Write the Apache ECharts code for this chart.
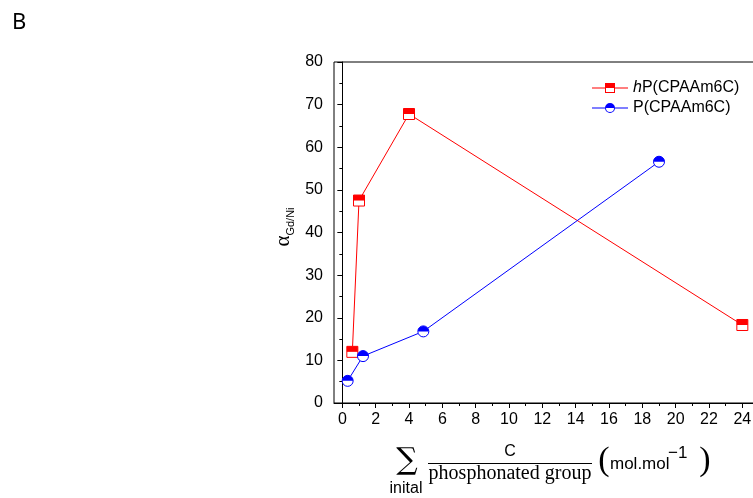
<!DOCTYPE html>
<html>
<head>
<meta charset="utf-8">
<script src="https://cdn.jsdelivr.net/npm/echarts@6/dist/echarts.min.js"></script>
<style>
html,body{margin:0;padding:0;background:#fff;}
#chart{width:753px;height:498px;}
</style>
</head>
<body>
<div id="chart"></div>
<script>
// ---- data ----
const hpName = 'hP(CPAAm6C)';
const pName = 'P(CPAAm6C)';
const hpX = [0.6, 1.0, 4.0, 24.0];
const hpY = [12.0, 47.5, 67.8, 18.3];
const pX = [0.32, 1.24, 4.86, 19.0];
const pY = [5.2, 11.0, 16.8, 56.6];
const xTicks = [0, 2, 4, 6, 8, 10, 12, 14, 16, 18, 20, 22, 24];
const xMinorTicks = [1, 3, 5, 7, 9, 11, 13, 15, 17, 19, 21, 23];
const yTicks = [0, 10, 20, 30, 40, 50, 60, 70, 80];

const zip = (xs, ys) => xs.map((x, i) => [x, ys[i]]);
const hpData = zip(hpX, hpY);
const pData = zip(pX, pY);

const RED = '#ff0000';
const BLUE = '#0000ff';
const FONT = 'Liberation Sans, Arial, sans-serif';

const redIcon = 'path://M0 4.5H13V5.5H0Z M13 0H23V10H13Z M14 5V9H22V5Z M23 4.5H36V5.5H23Z';
const blueIcon = 'path://M0 4.5H13V5.5H0Z M13 5A5 5 0 0 1 23 5Z M13 5A5 5 0 0 0 23 5L22 5A4 4 0 0 1 14 5Z M23 4.5H36V5.5H23Z';
const halfCircle = 'path://M0 5A5 5 0 0 1 10 5Z';

const chart = echarts.init(document.getElementById('chart'), null, {renderer: 'canvas'});

const option = {
  backgroundColor: '#fff',
  animation: false,
  grid: {
    left: 334, top: 62, width: 425, height: 341,
    outerBoundsMode: 'none', containLabel: false,
    show: true, borderColor: '#000', borderWidth: 1, backgroundColor: 'transparent'
  },
  xAxis: [{
    type: 'value', min: -0.5, max: 25,
    axisLine: {show: true, lineStyle: {color: '#000', width: 1}},
    axisTick: {show: true, customValues: xTicks, length: 5, lineStyle: {color: '#000', width: 1}},
    axisLabel: {customValues: xTicks, fontSize: 16, color: '#000', fontFamily: FONT, margin: 9},
    splitLine: {show: false}
  }, {
    type: 'value', min: -0.5, max: 25, position: 'top', offset: -341,
    axisLine: {show: false},
    axisTick: {show: true, inside: true, customValues: xMinorTicks, length: 3, lineStyle: {color: '#000', width: 1}},
    axisLabel: {show: false},
    splitLine: {show: false}
  }],
  yAxis: {
    type: 'value', min: 0, max: 80, interval: 10,
    axisLine: {show: true, lineStyle: {color: '#000', width: 1}},
    axisTick: {show: true, length: 5, lineStyle: {color: '#000', width: 1}},
    minorTick: {show: true, splitNumber: 2, length: 3, lineStyle: {color: '#000', width: 1}},
    axisLabel: {fontSize: 16, color: '#000', fontFamily: FONT, margin: 11,
      formatter: v => (yTicks.indexOf(v) >= 0 ? String(v) : '')},
    splitLine: {show: false}
  },
  legend: {
    orient: 'vertical', left: 592, top: 80, itemWidth: 36, itemHeight: 10, itemGap: 4,
    padding: 0,
    textStyle: {fontSize: 16, color: '#000', fontFamily: FONT,
      rich: {i: {fontStyle: 'italic', fontSize: 16, fontFamily: FONT, color: '#000'},
             n: {fontSize: 16, fontFamily: FONT, color: '#000'}}},
    formatter: name => name === hpName ? '{i|h}{n|P(CPAAm6C)}' : name,
    data: [
      {name: hpName, icon: redIcon, itemStyle: {color: RED, borderWidth: 0}},
      {name: pName, icon: blueIcon, itemStyle: {color: BLUE, borderWidth: 0}}
    ]
  },
  series: [
    {name: hpName, type: 'line', data: hpData, symbol: 'none', z: 2,
     lineStyle: {color: RED, width: 1}, itemStyle: {color: RED}},
    {name: pName, type: 'line', data: pData, symbol: 'none', z: 2,
     lineStyle: {color: BLUE, width: 1}, itemStyle: {color: BLUE}},
    {name: 'hpFill', type: 'scatter', data: hpData, symbol: 'rect', symbolSize: 11, z: 3,
     itemStyle: {color: '#fff', borderColor: RED, borderWidth: 1, opacity: 1}},
    {name: 'hpHalf', type: 'scatter', data: hpData, symbol: 'rect', symbolSize: [11, 5.5], symbolOffset: [0, -2.75], z: 4,
     itemStyle: {color: RED, opacity: 1}},
    {name: 'pFill', type: 'scatter', data: pData, symbol: 'circle', symbolSize: 11, z: 5,
     itemStyle: {color: '#fff', borderColor: BLUE, borderWidth: 1, opacity: 1}},
    {name: 'pHalf', type: 'scatter', data: pData, symbol: halfCircle, symbolSize: [11, 5.5], symbolOffset: [0, -2.75], z: 6,
     itemStyle: {color: BLUE, opacity: 1}}
  ],
  graphic: [
    {type: 'text', left: 12, top: 12, style: {text: 'B', fontSize: 22, fontFamily: 'Noto Sans, sans-serif', fill: '#000'}},
    // y axis title
    {type: 'text', x: 283, y: 227, rotation: Math.PI / 2,
     style: {text: '{a|α}{s|Gd/Ni}', align: 'center', verticalAlign: 'middle',
       rich: {a: {fontSize: 21, fontFamily: 'Liberation Serif, serif', fill: '#000', verticalAlign: 'bottom'},
              s: {fontSize: 11, fontFamily: FONT, fill: '#000', verticalAlign: 'bottom', padding: [0, 0, -3, 0]}}}},
    // x axis title
    {type: 'text', x: 407, y: 461, style: {text: '∑', fontSize: 30, fontFamily: 'DejaVu Serif, serif', fill: '#000', align: 'center', verticalAlign: 'middle'}},
    {type: 'text', x: 406, y: 489, style: {text: 'inital', fontSize: 16, fontFamily: FONT, fill: '#000', align: 'center', verticalAlign: 'middle'}},
    {type: 'text', x: 510, y: 452, style: {text: 'C', fontSize: 16, fontFamily: FONT, fill: '#000', align: 'center', verticalAlign: 'middle'}},
    {type: 'line', shape: {x1: 428, y1: 463.5, x2: 592, y2: 463.5}, style: {stroke: '#000', lineWidth: 1}},
    {type: 'text', x: 510, y: 474, style: {text: 'phosphonated group', fontSize: 20, fontFamily: 'Liberation Serif, serif', fill: '#000', align: 'center', verticalAlign: 'middle'}},
    {type: 'text', x: 604, y: 461, style: {text: '(', fontSize: 34, fontFamily: 'Liberation Serif, serif', fill: '#000', align: 'center', verticalAlign: 'middle'}},
    {type: 'text', x: 610, y: 464, style: {text: 'mol.mol', fontSize: 17, fontFamily: FONT, fill: '#000', align: 'left', verticalAlign: 'middle'}},
    {type: 'text', x: 668, y: 453, style: {text: '−1', fontSize: 17, fontFamily: FONT, fill: '#000', align: 'left', verticalAlign: 'middle'}},
    {type: 'text', x: 705, y: 461, style: {text: ')', fontSize: 34, fontFamily: 'Liberation Serif, serif', fill: '#000', align: 'center', verticalAlign: 'middle'}}
  ]
};
chart.setOption(option);
</script>
</body>
</html>
